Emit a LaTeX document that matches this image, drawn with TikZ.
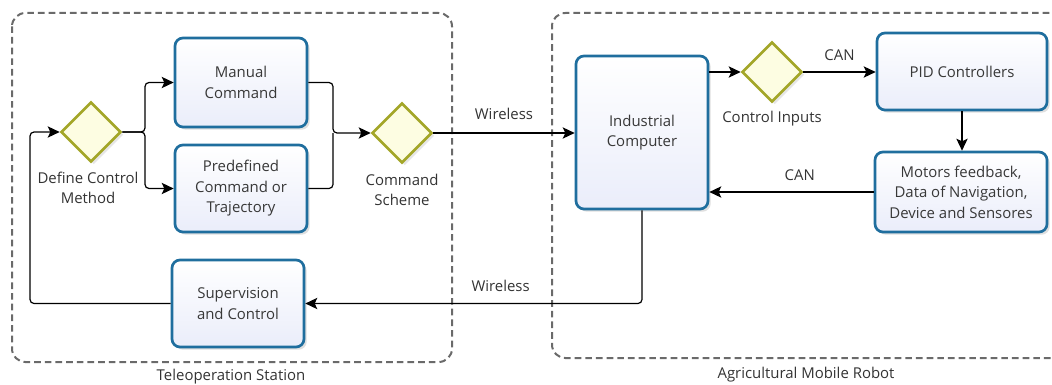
\documentclass[tikz,border=0pt]{standalone}
\usepackage{fontspec}
\setmainfont{Open Sans}
\usetikzlibrary{arrows.meta,shadows,shapes.geometric}
\definecolor{boxblue}{HTML}{1F6E9E}
\definecolor{boxfill}{HTML}{EAEDFA}
\definecolor{dfill}{HTML}{FDFDE2}
\definecolor{dline}{HTML}{A3A628}
\definecolor{grp}{HTML}{6A6A6A}
\tikzset{
  proc/.style={draw=boxblue, line width=2pt, rounded corners=6pt, top color=white, bottom color=boxfill,
    drop shadow={opacity=0.25, shadow xshift=2pt, shadow yshift=-2pt},
    align=center, font=\fontsize{11.2}{15.4}\selectfont, text=black!78, inner sep=0pt},
  gate/.style={diamond, draw=dline, line width=2pt, fill=dfill, minimum width=45pt, minimum height=45pt, inner sep=0pt,
    drop shadow={opacity=0.2, shadow xshift=2pt, shadow yshift=-2pt}},
  lbl/.style={align=center, font=\fontsize{11.2}{15.4}\selectfont, text=black!80},
  conn/.style={draw=black, line width=0.9pt, rounded corners=3pt},
  arr/.style={conn, -{Stealth[length=9pt,width=8.5pt,inset=2pt]}},
  group/.style={draw=grp, line width=1.5pt, dash pattern=on 5pt off 3pt, rounded corners=10pt}
}
\begin{document}
\begin{tikzpicture}[x=0.75pt,y=-0.75pt]
\useasboundingbox (0,0) rectangle (1052,385);
% groups
\draw[group] (12,13) rectangle (452,362);
\draw[group] (1060,13) -- (552,13) -- (552,358) -- (1060,358);
\node[lbl] (tslbl) at (231,377) {Teleoperation Station};
\node[lbl] (amrlbl) at (806,375) {Agricultural Mobile Robot};
% boxes
\node[proc, minimum width=99pt, minimum height=66.75pt] (man) at (241,82.5) {Manual\\Command};
\node[proc, minimum width=99pt, minimum height=65.25pt] (pre) at (241,188.5) {Predefined\\Command or\\Trajectory};
\node[proc, minimum width=99pt, minimum height=65.25pt] (sup) at (238,303.5) {Supervision\\and Control};
\node[proc, minimum width=99pt, minimum height=114.75pt] (ic) at (642,132.5) {Industrial\\Computer};
\node[proc, minimum width=127.5pt, minimum height=57.75pt] (pid) at (962,71.5) {PID Controllers};
\node[proc, minimum width=129pt, minimum height=60pt] (mot) at (961,192) {Motors feedback,\\Data of Navigation,\\Device and Sensores};
% gateways
\node[gate] (def) at (91,132) {};
\node[gate] (cs) at (402,133) {};
\node[gate] (ci) at (772,72) {};
\node[lbl] (deflbl) at (88,188) {Define Control\\Method};
\node[lbl] (cslbl) at (402,190) {Command\\Scheme};
\node[lbl] (cilbl) at (772,119) {Control Inputs};
% connectors
\draw[arr] (sup.west) -- (30,303.5) -- (30,132) -- (def.west);
\draw[arr] (def.east) -- (145,132) -- (145,82.5) -- (man.west);
\draw[arr] (def.east) -- (145,132) -- (145,188.5) -- (pre.west);
\draw[arr] (man.east) -- (333,82.5) -- (333,133) -- (cs.west);
\draw[conn] (pre.east) -- (333,188.5) -- (333,133);
\draw[arr] (cs.east) -- node[lbl, above=6pt] (w1) {Wireless} (cs.east -| ic.west);
\draw[arr] (ic.east |- ci) -- (ci.west);
\draw[arr] (ci.east) -- node[lbl, above=5pt] (can1) {CAN} (ci.east -| pid.west);
\draw[arr] (pid.south) -- (mot.north -| pid.south);
\draw[arr] (mot.west) -- node[lbl, above=5pt, pos=0.45] (can2) {CAN} (mot.west -| ic.east);
\draw[arr] (ic.south) -- (642,303.5) -- node[lbl, above=5pt, pos=0.42] (w2) {Wireless} (sup.east);
\end{tikzpicture}
\end{document}
